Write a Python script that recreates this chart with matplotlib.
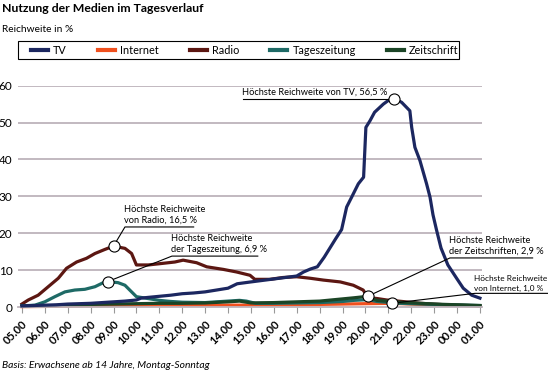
import matplotlib.pyplot as plt
import numpy as np
from matplotlib.patches import Rectangle

# hours after 05:00
tick_labels = ["05.00", "06.00", "07.00", "08.00", "09.00", "10.00", "11.00",
               "12.00", "13.00", "14.00", "15.00", "16.00", "17.00", "18.00",
               "19.00", "20.00", "21.00", "22.00", "23.00", "00.00", "01.00"]

tv_t = [0.0, 0.5, 1.0, 1.5, 2.0, 2.5, 3.0, 3.5, 4.0, 4.5, 5.0, 5.2, 5.5, 6.0,
        6.5, 7.0, 7.5, 8.0, 8.5, 9.0, 9.4, 10.0, 10.5, 11.0, 11.5, 12.0, 12.3,
        12.6, 12.9, 13.2, 13.45, 13.7, 13.96, 14.18, 14.4, 14.69, 14.92, 15.02,
        15.2, 15.4, 15.78, 16.0, 16.25, 16.58, 16.94, 17.02, 17.16, 17.38,
        17.67, 17.82, 17.95, 18.1, 18.3, 18.6, 18.98, 19.27, 19.64, 20.0]
tv_v = [0.3, 0.4, 0.5, 0.6, 0.8, 0.9, 1.0, 1.2, 1.4, 1.6, 1.9, 2.4, 2.6, 2.9,
        3.2, 3.6, 3.8, 4.1, 4.6, 5.1, 6.3, 6.8, 7.2, 7.6, 8.0, 8.4, 9.5,
        10.3, 10.9, 13.5, 16.0, 18.5, 21.0, 27.1, 29.8, 33.4, 35.2, 48.7,
        50.5, 52.8, 55.0, 56.0, 56.5, 55.5, 53.2, 48.7, 43.3, 39.7,
        33.4, 29.8, 25.0, 21.0, 16.0, 11.4, 7.8, 5.1, 3.2, 2.4]

radio_t = [0.0, 0.28, 0.71, 1.15, 1.59, 1.95, 2.39, 2.82, 3.19, 3.62, 4.0, 4.5,
           4.79, 5.0, 5.52, 6.1, 6.68, 7.04, 7.63, 8.07, 8.79, 9.37, 9.96,
           10.17, 10.83, 11.4, 12.0, 12.58, 13.16, 13.9, 14.47, 14.9, 15.12,
           15.5, 15.93, 16.6, 17.4, 18.5, 20.0]
radio_v = [0.8, 1.9, 3.2, 5.5, 7.8, 10.5, 12.2, 13.2, 14.5, 15.6, 16.5, 15.9,
           14.5, 11.4, 11.4, 11.8, 12.2, 12.7, 12.0, 10.9, 10.2, 9.5, 8.6,
           7.5, 7.5, 8.0, 8.2, 7.8, 7.3, 6.8, 5.9, 4.6, 2.6,
           2.3, 1.9, 1.5, 1.0, 0.6, 0.3]

zeitung_t = [0.0, 0.57, 1.0, 1.44, 1.88, 2.31, 2.75, 3.19, 3.62, 3.75, 4.2,
             4.5, 4.79, 5.0, 5.5, 6.0, 6.5, 7.0, 8.0, 8.5, 9.0, 9.5, 9.8, 10.2,
             11.0, 12.0, 13.0, 14.0, 14.5, 15.1, 15.5, 16.5, 18.0, 20.0]
zeitung_v = [0.3, 0.5, 1.4, 2.8, 4.1, 4.6, 4.8, 5.5, 6.8, 6.9, 6.6,
             5.9, 4.1, 2.8, 2.3, 1.8, 1.5, 1.3, 1.2, 1.4, 1.6, 1.8, 1.6, 1.0,
             1.0, 1.1, 1.2, 1.5, 1.8, 2.0, 1.5, 1.0, 0.7, 0.4]

zeitschrift_t = [0.0, 1.0, 2.0, 3.0, 4.0, 5.0, 6.0, 7.0, 8.0, 9.0, 9.5, 10.0,
                 11.0, 12.0, 13.0, 14.0, 14.5, 15.1, 15.5, 16.5, 18.0, 20.0]
zeitschrift_v = [0.2, 0.3, 0.5, 0.7, 0.8, 0.9, 1.0, 1.0, 1.1, 1.4, 1.6, 1.1,
                 1.2, 1.4, 1.6, 2.2, 2.5, 2.9, 1.8, 1.3, 0.8, 0.4]

internet_t = [0.0, 2.0, 4.0, 6.0, 8.0, 10.0, 12.0, 14.0, 15.0, 16.14, 17.0,
              18.0, 19.0, 20.0]
internet_v = [0.1, 0.2, 0.4, 0.5, 0.5, 0.5, 0.6, 0.8, 0.9, 1.0, 0.8,
              0.6, 0.4, 0.3]

colors = {"TV": "#1c2760", "Internet": "#f0501e", "Radio": "#5c1712",
          "Tageszeitung": "#1e6a66", "Zeitschrift": "#1b4526"}


def main() -> None:
    plt.rcParams["font.family"] = ["Lato", "DejaVu Sans"]
    fig = plt.figure(figsize=(5.48, 3.79), dpi=100)
    ax = fig.add_axes([18 / 548, 72 / 379, 464 / 548, 221.3 / 379])

    for y in range(10, 70, 10):
        ax.axhline(y, color="#bdb3bb", lw=1.3, zorder=0)

    series = [("TV", tv_t, tv_v), ("Internet", internet_t, internet_v),
              ("Radio", radio_t, radio_v), ("Tageszeitung", zeitung_t, zeitung_v),
              ("Zeitschrift", zeitschrift_t, zeitschrift_v)]
    handles = []
    for name, t, v in series:
        h, = ax.plot(t, v, color=colors[name], lw=2.3, label=name,
                     solid_joinstyle="round", clip_on=False)
        handles.append(h)
    handles[0].set_zorder(4)

    ax.set_xlim(-0.17, 20.09)
    ax.set_ylim(0, 60)
    ax.set_xticks(np.arange(len(tick_labels)))
    ax.set_xticklabels(tick_labels, rotation=45, ha="right",
                       rotation_mode="anchor", fontsize=8, fontweight="bold")
    ax.set_yticks(range(0, 70, 10))
    ax.tick_params(axis="y", length=0, pad=4, labelsize=8.5)
    ax.tick_params(axis="x", length=4, width=0.8, color="#999999", pad=4)
    for s in ["top", "right", "left"]:
        ax.spines[s].set_visible(False)
    ax.spines["bottom"].set_color("#bdb3bb")
    ax.spines["bottom"].set_linewidth(1.3)

    # peak annotations: (time, value, text, elbow point, underline end)
    peaks = [
        (tv_t[np.argmax(tv_v)], max(tv_v), "Höchste Reichweite von TV, 56,5 %",
         (9.65, 56.5), None),
        (radio_t[np.argmax(radio_v)], max(radio_v),
         "Höchste Reichweite\nvon Radio, 16,5 %", (4.5, 21.7), 7.5),
        (zeitung_t[np.argmax(zeitung_v)], max(zeitung_v),
         "Höchste Reichweite\nder Tageszeitung, 6,9 %", (6.55, 13.8), 10.3),
        (zeitschrift_t[np.argmax(zeitschrift_v)], max(zeitschrift_v),
         "Höchste Reichweite\nder Zeitschriften, 2,9 %", (18.69, 13.3), 22.3),
        (internet_t[np.argmax(internet_v)], max(internet_v),
         "Höchste Reichweite\nvon Internet, 1,0 %", (19.78, 3.7), 22.97),
    ]
    texts = []
    for px, py, txt, (ex, ey), uend in peaks:
        if uend is None:
            xs, ys = [ex, px], [ey, py]
        else:
            xs, ys = [px, ex, uend], [py, ey, ey]
        ax.plot(xs, ys, color="black", lw=0.8, clip_on=False, zorder=5)
        ax.plot(px, py, "o", ms=8, mfc="white", mec="black", mew=0.8,
                clip_on=False, zorder=6)
        texts.append(ax.text(ex - 0.05, ey + 0.5, txt, fontsize=6.7,
                             ha="left", va="bottom", linespacing=1.35,
                             clip_on=False, zorder=6))

    # shrink any annotation that would run past the right edge
    renderer = fig.canvas.get_renderer()
    for t in texts:
        while t.get_window_extent(renderer).x1 > 547.5 and t.get_fontsize() > 5:
            t.set_fontsize(t.get_fontsize() - 0.05)

    fig.text(2 / 548, 1 - 3 / 379, "Nutzung der Medien im Tagesverlauf",
             fontsize=8.8, fontweight="bold", va="top", ha="left")
    fig.text(2 / 548, 1 - 25 / 379, "Reichweite in %", fontsize=7.3,
             va="top", ha="left")
    fig.text(2 / 548, 1 - 361 / 379,
             "Basis: Erwachsene ab 14 Jahre, Montag-Sonntag", fontsize=7.4,
             style="italic", va="top", ha="left")

    # legend frame drawn separately so the entries can sit inside it freely
    fig.patches.append(Rectangle((18 / 548, 1 - 59 / 379), 441 / 548, 18 / 379,
                                 transform=fig.transFigure, fill=False,
                                 edgecolor="black", lw=0.8))
    leg = fig.legend(handles=handles, loc="center left", ncol=5,
                     bbox_to_anchor=(31 / 548, 1 - 50 / 379), borderaxespad=0,
                     fontsize=7.8, frameon=False, handlelength=1.6,
                     handletextpad=0.45, columnspacing=2.85, borderpad=0)
    for line in leg.get_lines():
        line.set_linewidth(3)

    fig.savefig("out.png", dpi=100)
    plt.close(fig)


if __name__ == "__main__":
    main()
